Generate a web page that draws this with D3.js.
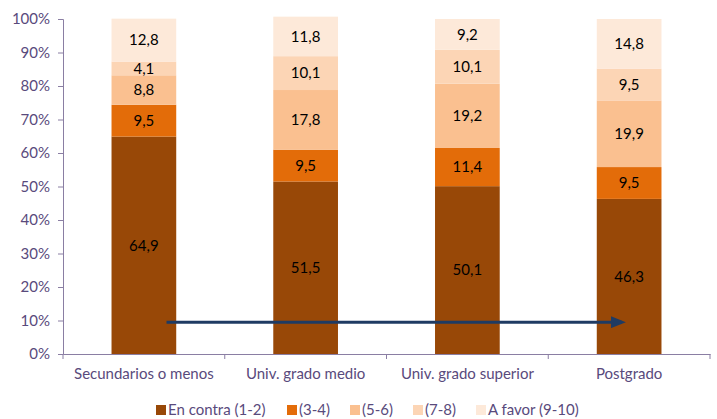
<!DOCTYPE html>
<html>
<head>
<meta charset="utf-8">
<script src="https://cdn.jsdelivr.net/npm/d3@7"></script>
<style>
  body { margin: 0; background: #fff; }
  svg text { font-family: Lato, "Open Sans", sans-serif; }
</style>
</head>
<body>
<div id="chart"></div>
<script>
var categories = ["Secundarios o menos", "Univ. grado medio", "Univ. grado superior", "Postgrado"];
var seriesNames = ["En contra (1-2)", "(3-4)", "(5-6)", "(7-8)", "A favor (9-10)"];
var enContra = [64.9, 51.5, 50.1, 46.3];
var s34 = [9.5, 9.5, 11.4, 9.5];
var s56 = [8.8, 17.8, 19.2, 19.9];
var s78 = [4.1, 10.1, 10.1, 9.5];
var aFavor = [12.8, 11.8, 9.2, 14.8];
var yTicks = [0, 10, 20, 30, 40, 50, 60, 70, 80, 90, 100];
var colors = ["#984807", "#e36c09", "#fac090", "#fcd5b5", "#fde9d9"];
var arrowLevel = 9.5;

var series = [enContra, s34, s56, s78, aFavor];

var W = 717, H = 419;
var margin = {top: 19, right: 7, bottom: 65, left: 63};
var width = W - margin.left - margin.right,
    height = H - margin.top - margin.bottom;

var svg = d3.select("#chart").append("svg")
    .attr("width", W).attr("height", H);
var g = svg.append("g")
    .attr("transform", "translate(" + margin.left + "," + margin.top + ")");

var x = d3.scaleBand().domain(categories).range([0, width]).paddingInner(0.6).paddingOuter(0.3);
var band = d3.scaleBand().domain(categories).range([0, width]);
var y = d3.scaleLinear().domain([0, 100]).range([height, 0]);

var table = categories.map(function (c, i) {
    var row = {cat: c};
    seriesNames.forEach(function (s, k) { row[s] = series[k][i]; });
    return row;
});
var stacked = d3.stack().keys(seriesNames)(table);

var axisCol = "#8a7ea3", textCol = "#594a7c";

// bars
var layer = g.selectAll(".layer").data(stacked).enter().append("g")
    .attr("fill", function (d, i) { return colors[i]; });
layer.selectAll("rect").data(function (d) { return d; }).enter().append("rect")
    .attr("x", function (d) { return x(d.data.cat); })
    .attr("width", x.bandwidth())
    .attr("y", function (d) { return y(d[1]); })
    .attr("height", function (d) { return y(d[0]) - y(d[1]); });

// value labels
layer.selectAll("text").data(function (d) { return d.map(function (p) { p.key = d.key; return p; }); })
    .enter().append("text")
    .attr("x", function (d) { return x(d.data.cat) + x.bandwidth() / 2; })
    .attr("y", function (d) { return y((d[0] + d[1]) / 2); })
    .attr("dy", "0.35em")
    .attr("text-anchor", "middle")
    .attr("fill", "#000")
    .style("font-size", "15px")
    .text(function (d) { return String(d.data[d.key]).replace(".", ","); });

// y axis
var yAxis = g.append("g")
    .call(d3.axisLeft(y).tickValues(yTicks).tickSize(5).tickPadding(8)
        .tickFormat(function (d) { return d + "%"; }));
yAxis.selectAll("line, path").attr("stroke", axisCol);
yAxis.selectAll("text").attr("fill", textCol).style("font-size", "15px");

// x axis
var xAxis = g.append("g").attr("transform", "translate(0," + height + ")")
    .call(d3.axisBottom(band).tickSize(0).tickPadding(14));
xAxis.select(".domain").attr("stroke", axisCol);
xAxis.selectAll("text").attr("fill", textCol).style("font-size", "15px");
var bounds = categories.map(function (c) { return band(c); }).concat([width]);
xAxis.selectAll(".sep").data(bounds).enter().append("line")
    .attr("x1", function (d) { return d; }).attr("x2", function (d) { return d; })
    .attr("y1", 0).attr("y2", 5).attr("stroke", axisCol);

// arrow
var defs = svg.append("defs");
defs.append("marker").attr("id", "arrowhead")
    .attr("viewBox", "0 0 15 12").attr("refX", 15).attr("refY", 6)
    .attr("markerWidth", 15).attr("markerHeight", 12).attr("orient", "auto")
    .attr("markerUnits", "userSpaceOnUse")
    .append("path").attr("d", "M0,0L15,6L0,12Z").attr("fill", "#1f3b63");
var xStart = band(categories[0]) + band.bandwidth() * 0.64;
var xEnd = band(categories[3]) + band.bandwidth() * 0.48;
g.append("line")
    .attr("x1", xStart).attr("x2", xEnd - 4)
    .attr("y1", y(arrowLevel)).attr("y2", y(arrowLevel))
    .attr("stroke", "#1f3b63").attr("stroke-width", 3);
g.append("line")
    .attr("x1", xEnd - 5).attr("x2", xEnd)
    .attr("y1", y(arrowLevel)).attr("y2", y(arrowLevel))
    .attr("stroke", "none")
    .attr("marker-end", "url(#arrowhead)");

// legend
var legend = svg.append("g").attr("transform", "translate(0,410)");
var lx = [156, 287, 350, 413, 476];
var item = legend.selectAll(".item").data(seriesNames).enter().append("g")
    .attr("transform", function (d, i) { return "translate(" + lx[i] + ",0)"; });
item.append("rect").attr("x", 0).attr("y", -5).attr("width", 10).attr("height", 10)
    .attr("fill", function (d, i) { return colors[i]; });
item.append("text").attr("x", 12).attr("dy", "0.35em")
    .attr("fill", textCol).style("font-size", "15px")
    .text(function (d) { return d; });
</script>
</body>
</html>
